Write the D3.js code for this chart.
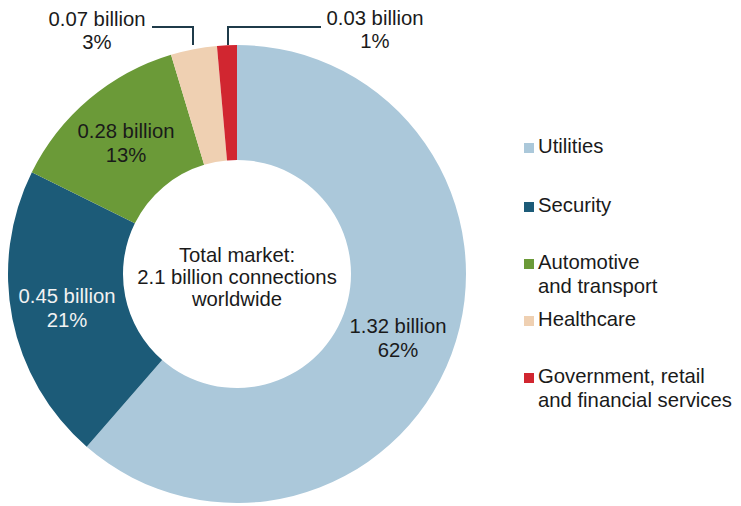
<!DOCTYPE html>
<html><head><meta charset="utf-8">
<script src="https://cdn.jsdelivr.net/npm/d3@7"></script>
<style>body{margin:0;background:#fff}svg{display:block}text{font-family:"Liberation Sans",Arial,sans-serif;}</style>
</head><body>
<svg id="c" width="741" height="506"></svg>
<script>
const categories = ["Utilities","Security","Automotive and transport","Healthcare","Government, retail and financial services"];
const legendLines = [["Utilities"],["Security"],["Automotive","and transport"],["Healthcare"],["Government, retail","and financial services"]];
const values = [1.32, 0.45, 0.28, 0.07, 0.03];
const valueLabels = ["1.32 billion","0.45 billion","0.28 billion","0.07 billion","0.03 billion"];
const percentLabels = ["62%","21%","13%","3%","1%"];
const centerLines = ["Total market:","2.1 billion connections","worldwide"];
const colors = ["#abc8da","#1c5b78","#6b9a38","#efd0b2","#d12630"];

const FS = 20.3;
const svg = d3.select("#c");
const cx = 237, cy = 274, R = 229, r = 114;
const g = svg.append("g").attr("transform",`translate(${cx},${cy})`);
const pie = d3.pie().sort(null).value(d=>d);
const arcs = pie(values);
const arc = d3.arc().innerRadius(r).outerRadius(R);
g.selectAll("path").data(arcs).join("path")
  .attr("d",arc).attr("fill",(d,i)=>colors[i]).attr("stroke","none");

// inside labels (first three slices), positions relative to centre (baseline of first line)
const labelPos = [[161,59],[-170,29],[-111,-136]];
const textColors = ["#1a1a1a","#f2f2f2","#1a1a1a"];
[0,1,2].forEach(i=>{
  const t = g.append("text").attr("text-anchor","middle").attr("font-size",FS).attr("fill",textColors[i]);
  t.append("tspan").attr("x",labelPos[i][0]).attr("y",labelPos[i][1]).text(valueLabels[i]);
  t.append("tspan").attr("x",labelPos[i][0]).attr("y",labelPos[i][1]+24).text(percentLabels[i]);
});

// outside labels with leader lines
const outside = [{i:3, tx:97, ty:26, line:[[152,27],[193,27],[193,45]]},
                 {i:4, tx:375, ty:25, line:[[321,27],[228,27],[228,45]]}];
outside.forEach(o=>{
  const t = svg.append("text").attr("text-anchor","middle").attr("font-size",FS).attr("fill","#1a1a1a");
  t.append("tspan").attr("x",o.tx).attr("y",o.ty).text(valueLabels[o.i]);
  t.append("tspan").attr("x",o.tx).attr("y",o.ty+23).text(percentLabels[o.i]);
  svg.append("path").attr("d",d3.line()(o.line)).attr("fill","none").attr("stroke","#1f3b4a").attr("stroke-width",2);
});

// center text
const ct = g.append("text").attr("text-anchor","middle").attr("font-size",FS).attr("fill","#1a1a1a");
centerLines.forEach((s,k)=>ct.append("tspan").attr("x",0).attr("y",-12+k*22).text(s));

// legend (baseline of first line)
const legY = [153,212,269,326,383];
legendLines.forEach((lines,i)=>{
  svg.append("rect").attr("x",524).attr("y",legY[i]-10).attr("width",10).attr("height",10).attr("fill",colors[i]);
  const t = svg.append("text").attr("font-size",FS).attr("fill","#1a1a1a");
  lines.forEach((s,k)=>t.append("tspan").attr("x",538).attr("y",legY[i]+k*24).text(s));
});
</script>
</body></html>
